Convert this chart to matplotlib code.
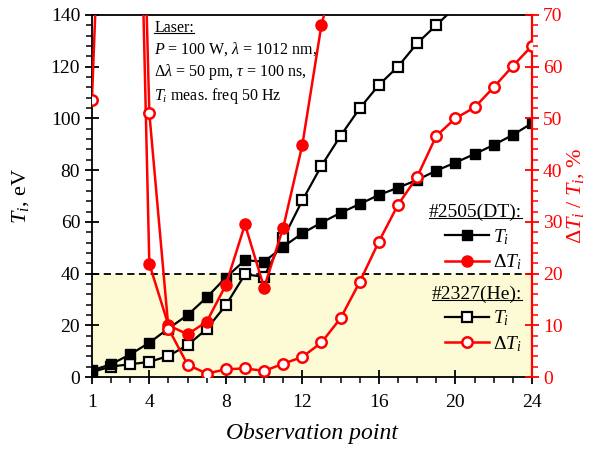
import numpy as np
import matplotlib.pyplot as plt
from matplotlib.lines import Line2D

plt.rcParams['font.family'] = 'Liberation Serif'
plt.rcParams['mathtext.fontset'] = 'custom'
plt.rcParams['mathtext.rm'] = 'Liberation Serif'
plt.rcParams['mathtext.it'] = 'Liberation Serif:italic'

# Observation points
n = np.arange(1, 25)

# #2505 (DT): ion temperature, eV
ti_dt = [2.6, 5.0, 8.8, 13.3, 18.8, 24.0, 30.8, 38.5, 45.2, 44.6, 50.4, 55.6,
         59.7, 63.5, 66.9, 70.4, 73.2, 76.2, 79.8, 82.9, 86.2, 89.7, 93.6, 98.1]
# #2327 (He): ion temperature, eV
ti_he = [2.0, 4.1, 5.0, 5.9, 8.2, 12.4, 18.6, 27.8, 39.7, 38.8, 53.6, 68.3,
         81.7, 93.3, 103.9, 112.9, 120.0, 129.0, 136.0, 143.0,
         np.nan, np.nan, np.nan, np.nan]

# relative error dTi/Ti, %
dti_dt = [np.nan, np.nan, 180.0, 21.9, 10.0, 8.3, 10.7, 17.8, 29.5, 17.3, 28.9, 44.9,
          68.1, 82.0, np.nan, np.nan, np.nan, np.nan, np.nan, np.nan,
          np.nan, np.nan, np.nan, np.nan]
dti_he = [53.6, 150.0, 190.0, 51.0, 9.4, 2.4, 0.7, 1.5, 1.7, 1.2, 2.6, 3.9,
          6.7, 11.4, 18.4, 26.2, 33.3, 38.7, 46.6, 50.0, 52.1, 56.0, 60.1, 64.0]

fig = plt.figure(figsize=(5.97, 4.49), dpi=100)
ax = fig.add_axes([0.154, 0.160, 0.737, 0.807])
ax2 = ax.twinx()

# fon i omraadet under 40 eV
ax.axhspan(0, 40, color='#fdfbd6', zorder=0)
ax.axhline(40, color='black', ls=(0, (4, 2.5)), lw=1.3, zorder=1)

ax.plot(n, ti_he, color='black', lw=1.6, marker='s', ms=6.5, mfc='white',
        mec='black', mew=1.6, zorder=3)
ax.plot(n, ti_dt, color='black', lw=1.6, marker='s', ms=7, mfc='black',
        mec='black', zorder=3)
ax2.plot(n, dti_dt, color='red', lw=1.8, marker='o', ms=8, mfc='red',
         mec='red', zorder=4)
ax2.plot(n, dti_he, color='red', lw=1.8, marker='o', ms=7.5, mfc='white',
         mec='red', mew=1.8, zorder=4)

ax.set_xlim(1, 24)
ax.set_ylim(0, 140)
ax2.set_ylim(0, 70)

ax.set_xticks([1, 4, 8, 12, 16, 20, 24])
ax.set_xticks(np.arange(1, 25), minor=True)
ax.set_yticks(np.arange(0, 141, 20))
ax.set_yticks(np.arange(0, 141, 4), minor=True)
ax2.set_yticks(np.arange(0, 71, 10))
ax2.set_yticks(np.arange(0, 71, 2), minor=True)

ax.tick_params(which='major', direction='inout', length=10, width=1.3, labelsize=14)
ax.tick_params(axis='x', which='major', pad=7)
ax.tick_params(which='minor', direction='out', length=4, width=1.1)
ax.tick_params(axis='y', right=False)
ax2.tick_params(which='major', direction='inout', length=10, width=1.3, labelsize=14,
                colors='red', pad=3)
ax2.tick_params(which='minor', direction='out', length=4, width=1.1, colors='red')

for s in ['left', 'bottom', 'top']:
    ax.spines[s].set_linewidth(1.3)
ax.spines['right'].set_visible(False)
ax2.spines['right'].set_color('red')
ax2.spines['right'].set_linewidth(1.6)
for s in ['left', 'bottom', 'top']:
    ax2.spines[s].set_visible(False)

ax.set_xlabel('Observation point', fontsize=17, style='italic', labelpad=9)
ax.set_ylabel('$T_i$, eV', fontsize=16, labelpad=14)
ax2.set_ylabel('$\\Delta T_i\\ /\\ T_i$, %', fontsize=16, color='red', labelpad=2)

t_laser = ax.text(0.142, 0.985, 'Laser:', transform=ax.transAxes, fontsize=11.5,
                  va='top', ha='left')
ax.text(0.142, 0.93,
        '$P$ = 100 W, $\\lambda$ = 1012 nm,\n'
        '$\\Delta\\lambda$ = 50 pm, $\\tau$ = 100 ns,\n'
        '$T_i$ meas. freq 50 Hz',
        transform=ax.transAxes, fontsize=11.5, va='top', ha='left', linespacing=1.3)

h_dt = [Line2D([], [], color='black', lw=1.6, marker='s', ms=7, mfc='black'),
        Line2D([], [], color='red', lw=1.8, marker='o', ms=8, mfc='red', mec='red')]
h_he = [Line2D([], [], color='black', lw=1.6, marker='s', ms=6.5, mfc='white', mew=1.6),
        Line2D([], [], color='red', lw=1.8, marker='o', ms=7.5, mfc='white', mec='red', mew=1.8)]
labels = ['$T_i$', '$\\Delta T_i$']

leg1 = ax2.legend(h_dt, labels, title='#2505(DT):', loc='upper right',
                  bbox_to_anchor=(0.995, 0.5), frameon=False, fontsize=14,
                  title_fontsize=14, handlelength=2.3, handletextpad=0.2,
                  labelspacing=0.3, alignment='right', borderaxespad=0.0)
ax2.add_artist(leg1)
leg2 = ax2.legend(h_he, labels, title='#2327(He):', loc='upper right',
                  bbox_to_anchor=(0.995, 0.275), frameon=False, fontsize=14,
                  title_fontsize=14, handlelength=2.3, handletextpad=0.2,
                  labelspacing=0.3, alignment='right', borderaxespad=0.0)

# understreking av overskrifter
fig.canvas.draw()
r = fig.canvas.get_renderer()
inv = fig.transFigure.inverted()
for t in [t_laser, leg1.get_title(), leg2.get_title()]:
    bb = t.get_window_extent(r)
    (x0, y0), (x1, _) = inv.transform([[bb.x0, bb.y0 + 3], [bb.x1, bb.y1]])
    fig.add_artist(Line2D([x0, x1], [y0, y0], color='black', lw=0.8,
                          transform=fig.transFigure))

fig.savefig('out.png', dpi=100)
